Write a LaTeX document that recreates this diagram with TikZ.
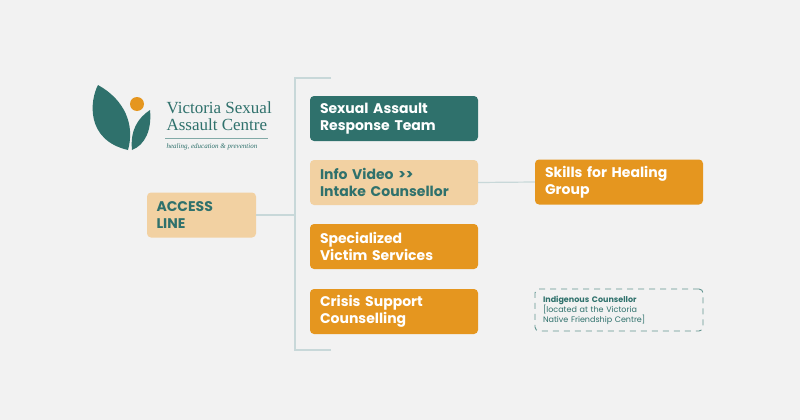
\documentclass[tikz,border=0pt]{standalone}
\usepackage{fontspec}
\setmainfont{Poppins}
\newfontfamily\logofont{Liberation Serif}
\usetikzlibrary{positioning}
\definecolor{vteal}{HTML}{2F716C}
\definecolor{vpeach}{HTML}{F2D1A2}
\definecolor{vorange}{HTML}{E5961F}
\definecolor{vback}{HTML}{F2F2F2}
\definecolor{vline}{HTML}{C8D8D9}
\tikzset{
  box/.style={rectangle, rounded corners=4pt, minimum width=168pt, minimum height=45pt,
    text width=148pt, align=left, font=\bfseries\fontsize{14}{17}\selectfont, inner sep=0pt},
  teal box/.style={box, fill=vteal, text=white},
  peach box/.style={box, fill=vpeach, text=vteal},
  orange box/.style={box, fill=vorange, text=white},
  link/.style={draw=vline, line width=1.2pt}
}
\begin{document}
\begin{tikzpicture}[x=1pt, y=-1pt]
  \fill[vback] (0,0) rectangle (800,420);
  \useasboundingbox (0,0) rectangle (800,420);

  % logo
  \fill[vteal] (128,150) .. controls (85,140) and (90,100) .. (98,85) .. controls (125,100) and (135,125) .. (128,150);
  \fill[vteal] (132,150) .. controls (130,130) and (138,118) .. (150,110) .. controls (152,130) and (145,145) .. (132,150);
  \fill[vorange] (137,104) circle (7);
  \node[anchor=west, text=vteal, font=\logofont\fontsize{17}{19}\selectfont, align=left] (logo) at (163,116) {Victoria Sexual\\[-2pt]Assault Centre};
  \draw[vteal!60, line width=0.6pt] (165,138) -- (268,138);
  \node[anchor=west, text=vteal, font=\logofont\itshape\fontsize{7}{8}\selectfont] (tagline) at (163,147) {healing, education \& prevention};

  % boxes
  \node[peach box, minimum width=109pt, text width=90pt] (access) at (201.5,215) {ACCESS\\LINE};
  \node[teal box] (sart) at (394,118.5) {Sexual Assault\\Response Team};
  \node[peach box] (intake) at (394,182.5) {Info Video {>}{>}\\Intake Counsellor};
  \node[orange box] (victim) at (394,246.5) {Specialized\\Victim Services};
  \node[orange box] (crisis) at (394,311.5) {Crisis Support\\Counselling};
  \node[orange box] (skills) at (619,182) {Skills for Healing\\Group};
  \node[box, fill=none, draw=vteal!75, line width=0.9pt, dash pattern=on 6pt off 5pt, minimum height=42pt,
    text=vteal, font=\fontsize{8}{10}\selectfont, text width=152pt] (elder) at (619,310)
    {\textbf{Indigenous Counsellor}\\{[}located at the Victoria\\Native Friendship Centre{]}};

  % connectors
  \coordinate (top) at (331,78);
  \coordinate (bottom) at (331,350);
  \draw[link] (top) -- (295,78) -- (295,350) -- (bottom);
  \draw[link] (access.east) -- (access.east -| 295,0);
  \draw[link] (intake.east) -- (skills.west);
\end{tikzpicture}
\end{document}
